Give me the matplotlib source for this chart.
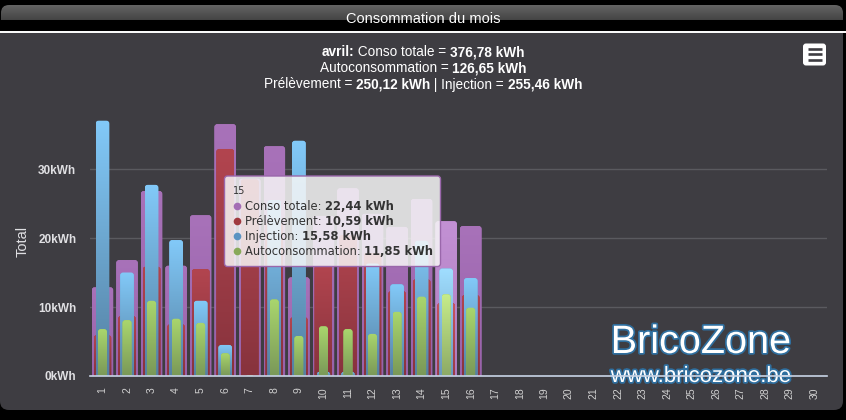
import numpy as np
import matplotlib
matplotlib.use('Agg')
import matplotlib.pyplot as plt
import matplotlib.patheffects as pe
from matplotlib.patches import FancyBboxPatch
from matplotlib.colors import to_rgb
from matplotlib.transforms import IdentityTransform

plt.rcParams['font.family'] = ['Liberation Sans', 'DejaVu Sans']

# Data (kWh per day of April)
days = list(range(1, 31))
day_labels = [str(d) for d in days]
conso_totale = [12.85, 16.8, 26.8, 16.0, 23.3, 36.5, 28.6, 33.3, 14.3, 23.2, 27.2, 23.5, 21.6, 25.65, 22.44, 21.74]
prelevement = [5.9, 8.7, 15.85, 7.5, 15.5, 32.9, 28.5, 22.2, 8.5, 16.0, 20.4, 17.8, 12.3, 14.0, 10.59, 11.74]
injection = [37.0, 15.0, 27.7, 19.7, 10.9, 4.5, 0.0, 25.5, 34.1, 0.6, 0.6, 16.3, 13.3, 19.6, 15.58, 14.2]
autoconsommation = [6.8, 8.1, 10.9, 8.3, 7.7, 3.3, 0.1, 11.1, 5.8, 7.2, 6.8, 6.1, 9.3, 11.5, 11.85, 9.9]
y_ticks = [0, 10, 20, 30]
hover_day = 15

month = 'avril'
total_conso = '376,78 kWh'
total_auto = '126,65 kWh'
total_prel = '250,12 kWh'
total_inj = '255,46 kWh'

W, H = 846, 420
BG = '#3e3d42'
SUB_FONT = ['Liberation Sans', 'DejaVu Sans']
TIP_FONT = ['DejaVu Sans']


def fmt(v):
    return f"{v:.2f}".replace('.', ',') + ' kWh'


def gradient(top, bottom):
    t = np.array(to_rgb(top))
    b = np.array(to_rgb(bottom))
    g = np.linspace(0, 1, 64)[:, None, None]
    return b + (t - b) * g


def gradient_bars(ax, bars, top, bottom, hl_top, hl_bottom, z):
    for d, bar in zip(days, bars):
        h = bar.get_height()
        if h <= 0:
            continue
        x0, w = bar.get_x(), bar.get_width()
        # rounded top corners, built in pixels so the radius stays round
        (px0, py0), (px1, py1) = ax.transData.transform([(x0, 0), (x0 + w, h)])
        clip = FancyBboxPatch((px0, py0 - 5), px1 - px0, py1 - py0 + 5,
                              boxstyle='round,pad=0,rounding_size=%.1f' % min(3, (px1 - px0) / 3),
                              transform=IdentityTransform(), fc='none', ec='none')
        bar.set_clip_path(clip)
        img = gradient(hl_top, hl_bottom) if d == hover_day else gradient(top, bottom)
        im = ax.imshow(img, extent=(x0, x0 + w, 0, h), origin='lower',
                       aspect='auto', zorder=z, interpolation='bilinear')
        im.set_clip_path(clip)


def text_width(ax, s, **kw):
    r = ax.figure.canvas.get_renderer()
    t1 = ax.text(0, 0, 'x' + s + 'x', **kw)
    t2 = ax.text(0, 0, 'xx', **kw)
    w = t1.get_window_extent(r).width - t2.get_window_extent(r).width
    t1.remove()
    t2.remove()
    return w


def rich_line(ax, x, y, parts, size, family, color, align='center'):
    kws = []
    for s, bold in parts:
        kws.append(dict(fontsize=size, family=family, color=color,
                        weight='bold' if bold else 'normal'))
    widths = [text_width(ax, s, **kw) for (s, _), kw in zip(parts, kws)]
    start = x - sum(widths) / 2 if align == 'center' else x
    for (s, _), kw, w in zip(parts, kws, widths):
        ax.text(start, y, s, ha='left', va='baseline', **kw)
        start += w


fig = plt.figure(figsize=(W / 100, H / 100), dpi=100, facecolor='black')

# background layer in pixel coordinates
bg = fig.add_axes([0, 0, 1, 1], zorder=0)
bg.set_xlim(0, W)
bg.set_ylim(H, 0)
bg.axis('off')
bg.add_patch(FancyBboxPatch((0, 20), 843, 390, boxstyle='round,pad=0,rounding_size=9',
                            fc=BG, ec='none', zorder=1))
bg.add_patch(plt.Rectangle((0, 0), W, 31, fc='black', ec='none', zorder=1))
title_patch = FancyBboxPatch((1, 5), 842, 30, boxstyle='round,pad=0,rounding_size=8',
                             fc='none', ec='none')
bg.add_patch(title_patch)
tim = bg.imshow(gradient('#646464', '#444444'), extent=(1, 843, 20, 5),
                aspect='auto', interpolation='bilinear', origin='lower', zorder=2)
tim.set_clip_path(title_patch)
bg.plot([0, W], [31.5, 31.5], color='white', lw=1.4, zorder=3)
bg.text(W / 2, 23, 'Consommation du mois', ha='center', va='baseline',
        fontsize=10.5, family=SUB_FONT, color='white', zorder=4)
bg.set_xlim(0, W)
bg.set_ylim(H, 0)

# watermark
stroke = [pe.withStroke(linewidth=2.5, foreground='#2f6f9f')]
bg.text(701, 353, 'BricoZone', ha='center', va='baseline', fontsize=28.5,
        color='white', path_effects=stroke, zorder=4)
bg.text(701, 382, 'www.bricozone.be', ha='center', va='baseline', fontsize=16,
        color='white', path_effects=stroke, zorder=4)

# main chart
x0_px, x1_px = 90.2, 826.7
y0_px, y1_px = 376, 113.8
ax = fig.add_axes([x0_px / W, 1 - y0_px / H, (x1_px - x0_px) / W, (y0_px - y1_px) / H],
                  zorder=1)
ax.set_facecolor('none')
ax.set_xlim(0.5, 30.5)
ax.set_ylim(0, 38)
xs = np.array(days[:len(conso_totale)])

b_conso = ax.bar(xs, conso_totale, 0.88, color='#a46db5', zorder=2)
gradient_bars(ax, b_conso, '#a872b9', '#9862aa', '#c391d4', '#ae7cc0', 2)
b_prel = ax.bar(xs, prelevement, 0.73, color='#a03c48', zorder=3)
gradient_bars(ax, b_prel, '#b2454f', '#87333d', '#c8565f', '#9a3c46', 3)
b_inj = ax.bar(xs, injection, 0.56, color='#6aa3d0', zorder=4)
gradient_bars(ax, b_inj, '#82c9f8', '#5480a2', '#a0deff', '#6a98bb', 4)
b_auto = ax.bar(xs, autoconsommation, 0.37, color='#90b860', zorder=5)
gradient_bars(ax, b_auto, '#a9d66d', '#7a9858', '#c6ec8a', '#8daa66', 5)

ax.set_xlim(0.5, 30.5)
ax.set_ylim(0, 38)
ax.set_xticks(days)
ax.set_xticklabels(day_labels, rotation=90, fontsize=7.5, color='#d0d0d0')
ax.set_yticks(y_ticks)
ax.set_yticklabels([f"{v}kWh" for v in y_ticks], fontsize=8.5, fontweight='bold',
                   color='#e0e0e3')
ax.tick_params(axis='x', length=0, pad=8)
ax.tick_params(axis='y', length=0, pad=10)
ax.yaxis.grid(True, color='#5a5a5f', lw=1)
ax.set_axisbelow(True)
for s in ['top', 'right', 'left']:
    ax.spines[s].set_visible(False)
ax.spines['bottom'].set_color('#c8d4e6')
ax.spines['bottom'].set_linewidth(1.2)
ax.spines['bottom'].set_zorder(6)
ax.set_ylabel('Total', fontsize=10.5, color='#e0e0e3')
ax.yaxis.set_label_coords((30 - x0_px) / (x1_px - x0_px), (y0_px - 241) / (y0_px - y1_px))

# overlay: subtitle, menu button, tooltip
ov = fig.add_axes([0, 0, 1, 1], zorder=3)
ov.set_xlim(0, W)
ov.set_ylim(H, 0)
ov.axis('off')
ov.patch.set_alpha(0)

rich_line(ov, W / 2, 56.5, [(month + ':', True), (' Conso totale = ', False), (total_conso, True)],
          9.8, SUB_FONT, 'white')
rich_line(ov, W / 2, 72.5, [('Autoconsommation = ', False), (total_auto, True)],
          9.8, SUB_FONT, 'white')
rich_line(ov, W / 2, 88.5, [('Prélèvement = ', False), (total_prel, True),
                            (' | Injection = ', False), (total_inj, True)],
          9.8, SUB_FONT, 'white')

ov.add_patch(FancyBboxPatch((803, 43.5), 23, 22, boxstyle='round,pad=0,rounding_size=3',
                            fc='white', ec='none'))
for yy in [48.8, 54.2, 59.6]:
    ov.plot([807.5, 821.5], [yy, yy], color=BG, lw=1.9, solid_capstyle='butt')

ov.add_patch(FancyBboxPatch((224.5, 176), 216, 90.5, boxstyle='round,pad=0,rounding_size=3',
                            fc=(247 / 255, 247 / 255, 247 / 255, 0.85), ec='#9a67ab', lw=1))
i = days.index(hover_day)
ov.text(233, 194, str(hover_day), fontsize=7, family=TIP_FONT, color='#333333',
        va='baseline')
rows = [('Conso totale: ', conso_totale[i], '#a46db5'),
        ('Prélèvement: ', prelevement[i], '#a0393f'),
        ('Injection: ', injection[i], '#5b93c2'),
        ('Autoconsommation: ', autoconsommation[i], '#88a95a')]
for k, (name, val, col) in enumerate(rows):
    yy = 205.5 + k * 15.2
    ov.plot(237, yy, 'o', ms=5.5, color=col, mec='none')
    rich_line(ov, 245, yy + 4, [(name, False), (fmt(val), True)], 8.3, TIP_FONT,
              '#333333', align='left')
ov.set_xlim(0, W)
ov.set_ylim(H, 0)

fig.savefig('out.png', dpi=100, facecolor='black')
